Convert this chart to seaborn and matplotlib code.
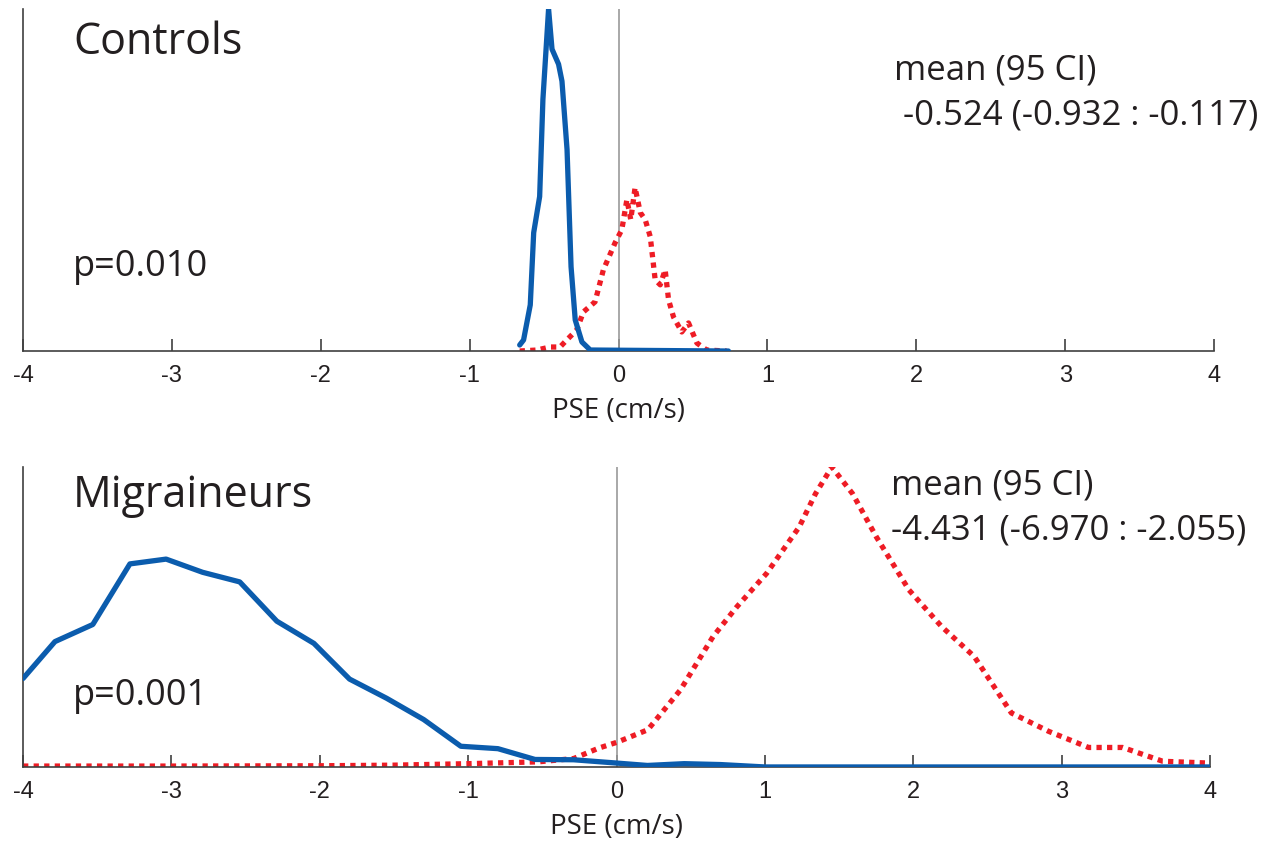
import matplotlib
matplotlib.use("Agg")
import matplotlib.pyplot as plt
import seaborn as sns

# Controls: distribution of PSE, two conditions
ctrl_blue_x = [-0.664, -0.638, -0.593, -0.570, -0.530, -0.508, -0.470, -0.447,
               -0.403, -0.380, -0.346, -0.319, -0.291, -0.246, -0.190, 0.738]
ctrl_blue_y = [0.06, 0.11, 0.46, 1.18, 1.54, 2.51, 3.41, 3.01,
               2.86, 2.69, 2.01, 0.84, 0.31, 0.09, 0.01, 0.0]

ctrl_red_x = [-0.664, -0.549, -0.460, -0.393, -0.348, -0.281, -0.236, -0.158,
              -0.102, -0.023, 0.022, 0.056, 0.082, 0.111, 0.146, 0.179, 0.213,
              0.246, 0.280, 0.313, 0.336, 0.369, 0.425, 0.470, 0.526, 0.592, 0.726]
ctrl_red_y = [0.0, 0.01, 0.04, 0.04, 0.11, 0.21, 0.39, 0.49,
              0.81, 1.08, 1.21, 1.51, 1.31, 1.63, 1.38, 1.31, 1.14,
              0.71, 0.66, 0.81, 0.51, 0.34, 0.19, 0.28, 0.08, 0.01, 0.0]

# Migraineurs
migr_blue_x = [-4.0, -3.785, -3.53, -3.28, -3.036, -2.79, -2.54, -2.29, -2.04,
               -1.80, -1.55, -1.30, -1.05, -0.80, -0.55, -0.29, 0.0, 0.207,
               0.455, 0.70, 1.0, 4.0]
migr_blue_y = [0.295, 0.418, 0.475, 0.677, 0.693, 0.649, 0.617, 0.486, 0.412,
               0.293, 0.229, 0.158, 0.069, 0.061, 0.025, 0.024, 0.013, 0.005,
               0.011, 0.008, 0.0, 0.0]

migr_red_x = [-4.0, -3.0, -2.0, -1.5, -1.0, -0.53, -0.29, -0.12, 0.0, 0.21, 0.43,
              0.65, 0.81, 1.01, 1.23, 1.34, 1.45, 1.59, 1.75, 1.97, 2.19, 2.41,
              2.66, 2.91, 3.18, 3.41, 3.68, 3.99]
migr_red_y = [0.003, 0.003, 0.004, 0.006, 0.011, 0.017, 0.028, 0.063, 0.082,
              0.124, 0.257, 0.435, 0.534, 0.645, 0.80, 0.911, 1.0, 0.911, 0.767,
              0.59, 0.468, 0.368, 0.18, 0.119, 0.065, 0.065, 0.019, 0.013]

xticks = [-4, -3, -2, -1, 0, 1, 2, 3, 4]

panels = [
    ("Controls", "p=0.010", " -0.524 (-0.932 : -0.117)",
     ctrl_blue_x, ctrl_blue_y, ctrl_red_x, ctrl_red_y),
    ("Migraineurs", "p=0.001", "-4.431 (-6.970 : -2.055)",
     migr_blue_x, migr_blue_y, migr_red_x, migr_red_y),
]

sns.set_style("white")
plt.rcParams["font.family"] = ["Open Sans", "DejaVu Sans"]

BLUE = "#0B5CAD"
RED = "#EE1C25"
DARK = "#231F20"

fig = plt.figure(figsize=(12.67, 8.43), dpi=100)
ax_top = fig.add_axes([0.0182, 0.5836, 0.9400, 0.4057])
ax_bot = fig.add_axes([0.0182, 0.0902, 0.9370, 0.3558])

# text y positions (axes fraction): title, p, mean, ci
text_y = [(0.90, 0.245, 0.82, 0.69), (0.903, 0.235, 0.937, 0.79)]

for ax, panel, ty in zip([ax_top, ax_bot], panels, text_y):
    name, ptxt, ci_txt, bx, by, rx, ry = panel

    ax.axvline(0, color="#9A9A9A", lw=1.2, zorder=1)
    sns.lineplot(x=rx, y=ry, ax=ax, color=RED, lw=3.8, estimator=None,
                 linestyle=(0, (1, 1)), zorder=2)
    sns.lineplot(x=bx, y=by, ax=ax, color=BLUE, lw=3.8, estimator=None,
                 zorder=3)
    for line in ax.lines:
        line.set_dash_capstyle("butt")

    ax.set_xlim(-4, 4)
    ax.set_ylim(0, max(max(by), max(ry)))
    ax.set_xticks(xticks)
    ax.set_xticklabels([str(t) for t in xticks], family="Liberation Sans",
                       fontsize=17, color=DARK)
    ax.set_yticks([])
    ax.tick_params(axis="x", direction="in", length=9, width=1.2,
                   color="#404040", pad=10, bottom=True)
    ax.set_xlabel("PSE (cm/s)", fontsize=20, color=DARK, labelpad=7)
    ax.set_ylabel("")
    sns.despine(ax=ax, top=True, right=True)
    for side in ["left", "bottom"]:
        ax.spines[side].set_color("#404040")
        ax.spines[side].set_linewidth(1.2)

    ax.text(0.042, ty[0], name, transform=ax.transAxes, fontsize=31,
            color=DARK, ha="left", va="center")
    ax.text(0.042, ty[1], ptxt, transform=ax.transAxes, fontsize=26,
            color=DARK, ha="left", va="center")
    ax.text(0.731, ty[2], "mean (95 CI)", transform=ax.transAxes, fontsize=25,
            color=DARK, ha="left", va="center")
    ax.text(0.731, ty[3], ci_txt, transform=ax.transAxes, fontsize=25,
            color=DARK, ha="left", va="center")

fig.savefig("out.png", dpi=100)
